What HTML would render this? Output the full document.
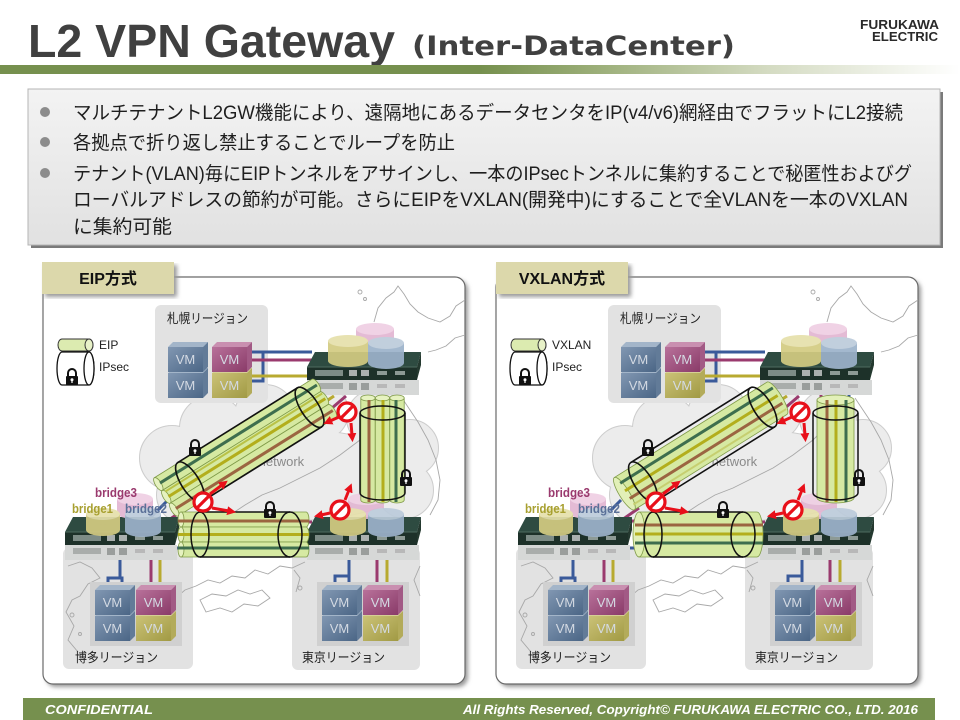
<!DOCTYPE html>
<html><head><meta charset="utf-8"><style>
html,body{margin:0;padding:0;background:#fff;}
svg{display:block;}
</style></head><body>
<svg width="960" height="720" viewBox="0 0 960 720" xmlns="http://www.w3.org/2000/svg" xmlns:xlink="http://www.w3.org/1999/xlink" font-family="'Liberation Sans','Noto Sans CJK JP',sans-serif">
<defs>
<linearGradient id="barG" x1="0" y1="0" x2="1" y2="0">
<stop offset="0" stop-color="#76904e"/><stop offset="0.5" stop-color="#76904e"/><stop offset="0.62" stop-color="#9bae78"/><stop offset="0.8" stop-color="#d4dbc2"/><stop offset="1" stop-color="#ffffff"/>
</linearGradient>
<linearGradient id="boxG" x1="0" y1="0" x2="0" y2="1">
<stop offset="0" stop-color="#f3f3f3"/><stop offset="1" stop-color="#e1e1e1"/>
</linearGradient>
<linearGradient id="vmB" x1="0" y1="0" x2="1" y2="1"><stop offset="0" stop-color="#8197b2"/><stop offset="1" stop-color="#4b6686"/></linearGradient>
<linearGradient id="vmP" x1="0" y1="0" x2="1" y2="1"><stop offset="0" stop-color="#b8719a"/><stop offset="1" stop-color="#8a3b69"/></linearGradient>
<linearGradient id="vmY" x1="0" y1="0" x2="1" y2="1"><stop offset="0" stop-color="#cbc277"/><stop offset="1" stop-color="#a19a44"/></linearGradient>
<filter id="blur" x="-5%" y="-5%" width="110%" height="110%"><feGaussianBlur stdDeviation="2"/></filter>
<marker id="ah" viewBox="0 0 10 10" refX="2" refY="5" markerWidth="3" markerHeight="3" orient="auto"><path d="M0,0 L10,5 L0,10 z" fill="#e8101a"/></marker>

<g id="pcBase">
  <g fill="#ececec" stroke="#cdcdcd" stroke-width="2">
    <circle cx="172" cy="458" r="32"/><circle cx="212" cy="428" r="32"/><circle cx="265" cy="415" r="30"/>
    <circle cx="320" cy="412" r="28"/><circle cx="375" cy="418" r="28"/><circle cx="410" cy="448" r="28"/>
    <circle cx="405" cy="490" r="28"/><circle cx="185" cy="495" r="28"/><ellipse cx="295" cy="475" rx="120" ry="45"/>
  </g>
  <g fill="#ececec">
    <circle cx="172" cy="458" r="32"/><circle cx="212" cy="428" r="32"/><circle cx="265" cy="415" r="30"/>
    <circle cx="320" cy="412" r="28"/><circle cx="375" cy="418" r="28"/><circle cx="410" cy="448" r="28"/>
    <circle cx="405" cy="490" r="28"/><circle cx="185" cy="495" r="28"/><ellipse cx="295" cy="475" rx="120" ry="45"/>
  </g>
  <rect x="155" y="305" width="113" height="98" rx="6" fill="#e2e2e2"/>
  <rect x="63" y="548" width="130" height="121" rx="6" fill="#e2e2e2"/>
  <rect x="292" y="548" width="128" height="122" rx="6" fill="#e2e2e2"/>
  <g fill="none" stroke="#a8a8a8" stroke-width="0.9">
    <path d="M374,322 L378,308 L386,298 L394,292 L398,286 L404,294 L410,304 L418,312 L428,318 L440,322 L450,316 L456,306 L462,302 L465,300"/>
    <path d="M465,335 L455,338 L446,346 L436,350 L428,352"/>
    <circle cx="360" cy="292" r="2"/><circle cx="365" cy="299" r="1.5"/>
    <path d="M402,398 L410,410 L418,422 L428,440 L436,460 L440,480 L438,500 L430,515"/>
    <path d="M395,400 L380,420 L360,440 L340,455 L320,468 L300,478 L280,488 L262,495 L245,505 L230,515 L215,525 L200,540"/>
    <path d="M305,562 L292,568 L280,566 L268,574 L255,570 L245,578 L232,576 L220,583 L208,580 L196,586 L185,590 L178,596"/>
    <path d="M200,600 L212,594 L226,596 L238,590 L250,594 L262,590 L270,598 L258,606 L244,604 L232,612 L220,608 L206,612 Z"/>
    <path d="M68,566 L80,562 L92,568 L100,578 L88,584 L80,596 L72,600 L66,612 L74,626 L68,640 L78,652"/>
    <path d="M420,566 L414,580 L420,596"/>
    <circle cx="72" cy="615" r="2"/><circle cx="80" cy="634" r="1.5"/><circle cx="300" cy="588" r="2"/>
    <path d="M294,570 L300,578 L296,592"/>
  </g>
  <path d="M62,339 H89 A4,6 0 0 1 89,351 H62 A4,6 0 0 1 62,339 Z" fill="#dcebb0" stroke="#333" stroke-width="1"/>
  <ellipse cx="89" cy="345" rx="4" ry="6" fill="#e8f2c8" stroke="#333" stroke-width="1"/>
  <path d="M62,352 H89 A5,16.5 0 0 1 89,385 H62 A5,16.5 0 0 1 62,352 Z" fill="#fff" stroke="#111" stroke-width="1.3"/>
  <ellipse cx="89" cy="368.5" rx="5" ry="16.5" fill="#fff" stroke="#111" stroke-width="1.3"/>
  <g fill="none" stroke-width="3">
    <path d="M250,352 H312 M250,381 H263 V352" stroke="#3a5a9a"/>
    <path d="M250,360 H312" stroke="#9a3a6e"/>
    <path d="M250,376 H312" stroke="#b8aa30"/>
    <path d="M108,592 V578 H122 V592 M120,560 V578" stroke="#3a5a9a"/>
    <path d="M151,560 V592" stroke="#9a3a6e"/>
    <path d="M160,560 V592" stroke="#b8aa30"/>
    <path d="M335,592 V576 H349 V592 M349,560 V576" stroke="#3a5a9a"/>
    <path d="M377,560 V592" stroke="#9a3a6e"/>
    <path d="M387,560 V592" stroke="#b8aa30"/>
    <path d="M368,394 V404" stroke="#9a3a6e"/><path d="M382,394 V404" stroke="#b8aa30"/><path d="M396,394 V404" stroke="#3a5a9a"/>
    <path d="M334,396 L322,404" stroke="#b8aa30"/><path d="M346,396 L332,408" stroke="#9a3a6e"/>
    <path d="M150,518 L168,500" stroke="#3a5a9a"/>
    <path d="M166,522 L186,508" stroke="#9a3a6e"/>
    <path d="M174,521 H186" stroke="#9a3a6e"/><path d="M174,548 H186" stroke="#3a5a9a"/>
    <path d="M298,522 H312" stroke="#9a3a6e"/><path d="M298,548 H312" stroke="#3a5a9a"/>
  </g>
  <rect x="90" y="582" width="92" height="64" fill="#d0d0d0"/>
  <rect x="317" y="582" width="92" height="64" fill="#d0d0d0"/>
  <polygon points="168,373 173,368 208,368 203,373" fill="#a3b5c9"/><polygon points="203,373 208,368 208,393 203,398" fill="#627b98"/><rect x="168" y="373" width="35" height="25" fill="url(#vmB)"/>
  <polygon points="168,347 173,342 208,342 203,347" fill="#a3b5c9"/><polygon points="203,347 208,342 208,367 203,372" fill="#627b98"/><rect x="168" y="347" width="35" height="25" fill="url(#vmB)"/>
  <polygon points="212,373 217,368 252,368 247,373" fill="#d6cf95"/><polygon points="247,373 252,368 252,393 247,398" fill="#b3ab5a"/><rect x="212" y="373" width="35" height="25" fill="url(#vmY)"/>
  <polygon points="212,347 217,342 252,342 247,347" fill="#c98fb0"/><polygon points="247,347 252,342 252,367 247,372" fill="#a25a85"/><rect x="212" y="347" width="35" height="25" fill="url(#vmP)"/>
  <polygon points="95,616 100,611 135,611 130,616" fill="#a3b5c9"/><polygon points="130,616 135,611 135,636 130,641" fill="#627b98"/><rect x="95" y="616" width="35" height="25" fill="url(#vmB)"/>
  <polygon points="95,590 100,585 135,585 130,590" fill="#a3b5c9"/><polygon points="130,590 135,585 135,610 130,615" fill="#627b98"/><rect x="95" y="590" width="35" height="25" fill="url(#vmB)"/>
  <polygon points="136,616 141,611 176,611 171,616" fill="#d6cf95"/><polygon points="171,616 176,611 176,636 171,641" fill="#b3ab5a"/><rect x="136" y="616" width="35" height="25" fill="url(#vmY)"/>
  <polygon points="136,590 141,585 176,585 171,590" fill="#c98fb0"/><polygon points="171,590 176,585 176,610 171,615" fill="#a25a85"/><rect x="136" y="590" width="35" height="25" fill="url(#vmP)"/>
  <polygon points="322,616 327,611 362,611 357,616" fill="#a3b5c9"/><polygon points="357,616 362,611 362,636 357,641" fill="#627b98"/><rect x="322" y="616" width="35" height="25" fill="url(#vmB)"/>
  <polygon points="322,590 327,585 362,585 357,590" fill="#a3b5c9"/><polygon points="357,590 362,585 362,610 357,615" fill="#627b98"/><rect x="322" y="590" width="35" height="25" fill="url(#vmB)"/>
  <polygon points="363,616 368,611 403,611 398,616" fill="#d6cf95"/><polygon points="398,616 403,611 403,636 398,641" fill="#b3ab5a"/><rect x="363" y="616" width="35" height="25" fill="url(#vmY)"/>
  <polygon points="363,590 368,585 403,585 398,590" fill="#c98fb0"/><polygon points="398,590 403,585 403,610 398,615" fill="#a25a85"/><rect x="363" y="590" width="35" height="25" fill="url(#vmP)"/>
  <g id="rtrH">
    <rect x="65" y="545" width="112" height="15" fill="#d6d8d7"/>
    <rect x="73" y="548" width="28" height="6" fill="#a9adab"/><rect x="107" y="548" width="8" height="7" fill="#9a9e9c"/><rect x="119" y="548" width="8" height="7" fill="#9a9e9c"/><rect x="135" y="549" width="10" height="4" fill="#b8b8b8"/><rect x="153" y="549" width="10" height="4" fill="#b8b8b8"/>
    <polygon points="73,517 179,517 175,532 65,532" fill="#2e4b41"/>
    <polygon points="175,532 179,517 179,530 175,545" fill="#24392f"/>
    <rect x="65" y="532" width="110" height="13" fill="#1d3129"/>
    <rect x="73" y="535" width="28" height="6" fill="#7d8c86"/><rect x="107" y="535" width="8" height="6" fill="#aab0ae"/><rect x="119" y="535" width="8" height="6" fill="#aab0ae"/><rect x="135" y="536" width="10" height="4" fill="#8d9a95"/><rect x="153" y="536" width="10" height="4" fill="#8d9a95"/>
    <line x1="65" y1="532" x2="175" y2="532" stroke="#4d6b60" stroke-width="1"/>
  </g>
  <use href="#rtrH" xlink:href="#rtrH" transform="translate(242,0)"/>
  <use href="#rtrH" xlink:href="#rtrH" transform="translate(242,-165)"/>
  <g opacity="0.92">
    <rect x="117" y="499" width="36" height="14" fill="#e2b6d2"/><ellipse cx="135" cy="513" rx="18" ry="6" fill="#e2b6d2"/><ellipse cx="135" cy="499" rx="18" ry="6" fill="#efcfe3"/>
    <rect x="86" y="514" width="34" height="16" fill="#d3cb82"/><ellipse cx="103" cy="530" rx="17" ry="6" fill="#d3cb82"/><ellipse cx="103" cy="514" rx="17" ry="6" fill="#e6e0ab"/>
    <rect x="125" y="514" width="36" height="17" fill="#9cb2ca"/><ellipse cx="143" cy="531" rx="18" ry="6" fill="#9cb2ca"/><ellipse cx="143" cy="514" rx="18" ry="6" fill="#bccbdb"/>
    <rect x="348" y="499" width="36" height="14" fill="#e2b6d2"/><ellipse cx="366" cy="513" rx="18" ry="6" fill="#e2b6d2"/><ellipse cx="366" cy="499" rx="18" ry="6" fill="#efcfe3"/>
    <rect x="330" y="514" width="36" height="16" fill="#d3cb82"/><ellipse cx="348" cy="530" rx="18" ry="6" fill="#d3cb82"/><ellipse cx="348" cy="514" rx="18" ry="6" fill="#e6e0ab"/>
    <rect x="368" y="514" width="36" height="17" fill="#9cb2ca"/><ellipse cx="386" cy="531" rx="18" ry="6" fill="#9cb2ca"/><ellipse cx="386" cy="514" rx="18" ry="6" fill="#bccbdb"/>
    <rect x="356" y="329" width="38" height="16" fill="#e2b6d2"/><ellipse cx="375" cy="345" rx="19" ry="6" fill="#e2b6d2"/><ellipse cx="375" cy="329" rx="19" ry="6" fill="#efcfe3"/>
    <rect x="328" y="341" width="40" height="20" fill="#d3cb82"/><ellipse cx="348" cy="361" rx="20" ry="6" fill="#d3cb82"/><ellipse cx="348" cy="341" rx="20" ry="6" fill="#e6e0ab"/>
    <rect x="368" y="343" width="36" height="20" fill="#9cb2ca"/><ellipse cx="386" cy="363" rx="18" ry="6" fill="#9cb2ca"/><ellipse cx="386" cy="343" rx="18" ry="6" fill="#bccbdb"/>
  </g>
</g>

<g id="lock">
  <path d="M-4,-1 V-5 A4,4 0 0 1 4,-5 V-1" fill="none" stroke="#111" stroke-width="2"/>
  <rect x="-6" y="-2" width="12" height="9" rx="1" fill="#111"/>
  <circle cx="0" cy="1.8" r="1.5" fill="#fff"/><rect x="-0.6" y="2" width="1.2" height="3" fill="#fff"/>
</g>

<g id="pcTop">
  <g stroke="#e8101a" stroke-width="3" fill="none" marker-end="url(#ah)">
    <line x1="339" y1="417" x2="330" y2="421"/>
    <line x1="351" y1="423" x2="352" y2="435"/>
    <line x1="210" y1="494" x2="222" y2="485"/>
    <line x1="212" y1="508" x2="229" y2="511"/>
    <line x1="345" y1="500" x2="349" y2="490"/>
    <line x1="330" y1="513" x2="321" y2="515"/>
  </g>
  <g fill="#fff" stroke="#e8101a" stroke-width="3.2">
    <circle cx="347" cy="412" r="9"/><line x1="353" y1="406" x2="341" y2="418"/>
    <circle cx="203" cy="502" r="9"/><line x1="209" y1="496" x2="197" y2="508"/>
    <circle cx="340" cy="510" r="9"/><line x1="346" y1="504" x2="334" y2="516"/>
  </g>
  <use href="#lock" xlink:href="#lock" transform="translate(72,378)"/>
  <use href="#lock" xlink:href="#lock" transform="translate(195,449)"/>
  <use href="#lock" xlink:href="#lock" transform="translate(270,511)"/>
  <use href="#lock" xlink:href="#lock" transform="translate(406,479)"/>
</g>
</defs>

<text x="28" y="57" font-size="46" font-weight="bold" fill="#404040" textLength="367" lengthAdjust="spacingAndGlyphs">L2 VPN Gateway</text>
<text x="412" y="55" font-family="'DejaVu Sans',sans-serif" font-size="27" font-weight="bold" fill="#404040" textLength="323" lengthAdjust="spacingAndGlyphs">(Inter-DataCenter)</text>
<text x="860" y="29" font-size="12.5" font-weight="bold" fill="#2a2a2a" textLength="79" lengthAdjust="spacingAndGlyphs">FURUKAWA</text>
<text x="872" y="41" font-size="12.5" font-weight="bold" fill="#2a2a2a" textLength="66" lengthAdjust="spacingAndGlyphs">ELECTRIC</text>
<rect x="0" y="65" width="960" height="9" fill="url(#barG)"/>

<rect x="31" y="92" width="912" height="156" fill="#7a7a7a"/>
<rect x="28" y="89" width="912" height="156" fill="url(#boxG)" stroke="#b5b5b5" stroke-width="1"/>
<circle cx="45" cy="112" r="5" fill="#8c8c8c"/>
<circle cx="45" cy="142" r="5" fill="#8c8c8c"/>
<circle cx="45" cy="173" r="5" fill="#8c8c8c"/>
<g font-size="19" fill="#1e1e1e">
<text x="73" y="119" textLength="830" lengthAdjust="spacingAndGlyphs">マルチテナントL2GW機能により、遠隔地にあるデータセンタをIP(v4/v6)網経由でフラットにL2接続</text>
<text x="73" y="149" textLength="382" lengthAdjust="spacingAndGlyphs">各拠点で折り返し禁止することでループを防止</text>
<text x="73" y="180" textLength="839" lengthAdjust="spacingAndGlyphs">テナント(VLAN)毎にEIPトンネルをアサインし、一本のIPsecトンネルに集約することで秘匿性およびグ</text>
<text x="73" y="206" textLength="835" lengthAdjust="spacingAndGlyphs">ローバルアドレスの節約が可能。さらにEIPをVXLAN(開発中)にすることで全VLANを一本のVXLAN</text>
<text x="73" y="233" textLength="99" lengthAdjust="spacingAndGlyphs">に集約可能</text>
</g>

<rect x="46" y="280" width="422" height="407" rx="10" fill="#9a9a9a" filter="url(#blur)"/>
<rect x="43" y="277" width="422" height="407" rx="10" fill="#fff" stroke="#6a6a6a" stroke-width="1.2"/>
<rect x="499" y="280" width="422" height="407" rx="10" fill="#9a9a9a" filter="url(#blur)"/>
<rect x="496" y="277" width="422" height="407" rx="10" fill="#fff" stroke="#6a6a6a" stroke-width="1.2"/>

<use href="#pcBase" xlink:href="#pcBase"/>
<use href="#pcBase" xlink:href="#pcBase" transform="translate(453,0)"/>

<g font-size="13" fill="#222">
<text x="167" y="323" textLength="81" lengthAdjust="spacingAndGlyphs">札幌リージョン</text>
<text x="75" y="662" textLength="83" lengthAdjust="spacingAndGlyphs">博多リージョン</text>
<text x="302" y="662" textLength="83" lengthAdjust="spacingAndGlyphs">東京リージョン</text>
<text x="620" y="323" textLength="81" lengthAdjust="spacingAndGlyphs">札幌リージョン</text>
<text x="528" y="662" textLength="83" lengthAdjust="spacingAndGlyphs">博多リージョン</text>
<text x="755" y="662" textLength="83" lengthAdjust="spacingAndGlyphs">東京リージョン</text>
</g>
<g font-size="12" fill="#222">
<text x="99" y="349">EIP</text>
<text x="99" y="371">IPsec</text>
<text x="552" y="349">VXLAN</text>
<text x="552" y="371">IPsec</text>
</g>
<g font-size="13" fill="#d4dae3" text-anchor="middle">
<text x="185.5" y="364">VM</text><text x="185.5" y="390">VM</text><text x="229.5" y="364">VM</text><text x="229.5" y="390">VM</text>
<text x="112.5" y="607">VM</text><text x="112.5" y="633">VM</text><text x="153.5" y="607">VM</text><text x="153.5" y="633">VM</text>
<text x="339.5" y="607">VM</text><text x="339.5" y="633">VM</text><text x="380.5" y="607">VM</text><text x="380.5" y="633">VM</text>
<text x="638.5" y="364">VM</text><text x="638.5" y="390">VM</text><text x="682.5" y="364">VM</text><text x="682.5" y="390">VM</text>
<text x="565.5" y="607">VM</text><text x="565.5" y="633">VM</text><text x="606.5" y="607">VM</text><text x="606.5" y="633">VM</text>
<text x="792.5" y="607">VM</text><text x="792.5" y="633">VM</text><text x="833.5" y="607">VM</text><text x="833.5" y="633">VM</text>
</g>
<g font-size="13" fill="#8a8a8a">
<text x="243" y="466">IP network</text>
<text x="696" y="466">IP network</text>
</g>

<!-- LEFT tunnels (EIP) -->
<g transform="translate(190,482) rotate(-32)">
  <g fill="#d6e9a2" stroke="#7f9a48" stroke-width="0.8">
    <path d="M-28,-22.5 H158 A3,7.5 0 0 1 158,-7.5 H-28 Z"/><ellipse cx="-28" cy="-15" rx="3" ry="7.5" fill="#e6f2c0"/>
    <path d="M-28,-7.5 H158 A3,7.5 0 0 1 158,7.5 H-28 Z"/><ellipse cx="-28" cy="0" rx="3" ry="7.5" fill="#e6f2c0"/>
    <path d="M-28,7.5 H158 A3,7.5 0 0 1 158,22.5 H-28 Z"/><ellipse cx="-28" cy="15" rx="3" ry="7.5" fill="#e6f2c0"/>
  </g>
  <line x1="-26" y1="-15" x2="159" y2="-15" stroke="#3e6e4e" stroke-width="3"/>
  <line x1="-26" y1="-5" x2="159" y2="-5" stroke="#b9c247" stroke-width="2"/>
  <line x1="-26" y1="1" x2="159" y2="1" stroke="#b3ae1c" stroke-width="3"/>
  <line x1="-26" y1="15" x2="159" y2="15" stroke="#9b6541" stroke-width="3"/>
  <path d="M0,-23 H141 M0,23 H141" stroke="#111" stroke-width="1.6" fill="none"/>
  <ellipse cx="0" cy="0" rx="9" ry="23" fill="none" stroke="#111" stroke-width="1.6"/>
  <ellipse cx="141" cy="0" rx="9" ry="23" fill="none" stroke="#111" stroke-width="1.6"/>
</g>
<g>
  <g fill="#d6e9a2" stroke="#7f9a48" stroke-width="0.8">
    <path d="M360.8,398 V500 A7.2,3 0 0 0 375.2,500 V398 Z"/><ellipse cx="368" cy="398" rx="7.2" ry="3" fill="#e6f2c0"/>
    <path d="M375.3,398 V500 A7.2,3 0 0 0 389.7,500 V398 Z"/><ellipse cx="382.5" cy="398" rx="7.2" ry="3" fill="#e6f2c0"/>
    <path d="M389.8,398 V500 A7.2,3 0 0 0 404.2,500 V398 Z"/><ellipse cx="397" cy="398" rx="7.2" ry="3" fill="#e6f2c0"/>
  </g>
  <line x1="369" y1="400" x2="369" y2="502" stroke="#9b6541" stroke-width="3"/>
  <line x1="383" y1="400" x2="383" y2="502" stroke="#b3ae1c" stroke-width="3"/>
  <line x1="396" y1="400" x2="396" y2="502" stroke="#3e6e4e" stroke-width="3"/>
  <path d="M360,413 V493 M405,413 V493 M360,493 A22.5,7 0 0 0 405,493" fill="none" stroke="#111" stroke-width="1.5"/>
  <ellipse cx="382.5" cy="413" rx="22.5" ry="7" fill="none" stroke="#111" stroke-width="1.5"/>
</g>
<g>
  <g fill="#d6e9a2" stroke="#7f9a48" stroke-width="0.8">
    <path d="M181,512 H306 A3,7.5 0 0 1 306,527 H181 Z"/><ellipse cx="181" cy="519.5" rx="3" ry="7.5" fill="#e6f2c0"/>
    <path d="M181,527 H306 A3,7.5 0 0 1 306,542 H181 Z"/><ellipse cx="181" cy="534.5" rx="3" ry="7.5" fill="#e6f2c0"/>
    <path d="M181,542 H306 A3,7.5 0 0 1 306,557 H181 Z"/><ellipse cx="181" cy="549.5" rx="3" ry="7.5" fill="#e6f2c0"/>
  </g>
  <line x1="178" y1="521" x2="309" y2="521" stroke="#9b6541" stroke-width="3"/>
  <line x1="178" y1="534.5" x2="309" y2="534.5" stroke="#b3ae1c" stroke-width="3"/>
  <line x1="178" y1="548" x2="309" y2="548" stroke="#3e6e4e" stroke-width="3"/>
  <path d="M200,512 H290 M200,557 H290" fill="none" stroke="#111" stroke-width="1.5"/>
  <ellipse cx="200" cy="534.5" rx="9" ry="22.5" fill="none" stroke="#111" stroke-width="1.5"/>
  <ellipse cx="290" cy="534.5" rx="12" ry="22.5" fill="none" stroke="#111" stroke-width="1.5"/>
</g>

<!-- RIGHT tunnels (VXLAN) -->
<g transform="translate(453,0)">
  <g transform="translate(190,482) rotate(-32)">
    <path d="M-22,-19 H158 A5,19 0 0 1 158,19 H-22 Z" fill="#d6e9a2" stroke="#7f9a48" stroke-width="0.8"/>
    <ellipse cx="-22" cy="0" rx="5" ry="19" fill="#e2f0b8" stroke="#7f9a48" stroke-width="0.8"/>
    <line x1="-20" y1="-11" x2="160" y2="-11" stroke="#3e6e4e" stroke-width="3"/>
    <line x1="-20" y1="-2" x2="160" y2="-2" stroke="#b3ae1c" stroke-width="3"/>
    <line x1="-20" y1="7" x2="160" y2="7" stroke="#9b6541" stroke-width="3"/>
    <line x1="-20" y1="14" x2="160" y2="14" stroke="#c6cf70" stroke-width="2"/>
    <path d="M0,-23 H141 M0,23 H141" stroke="#111" stroke-width="1.6" fill="none"/>
    <ellipse cx="0" cy="0" rx="9" ry="23" fill="none" stroke="#111" stroke-width="1.6"/>
    <ellipse cx="141" cy="0" rx="9" ry="23" fill="none" stroke="#111" stroke-width="1.6"/>
  </g>
  <path d="M364,400 V498 A18.5,5 0 0 0 401,498 V400 Z" fill="#d6e9a2" stroke="#7f9a48" stroke-width="0.8"/>
  <ellipse cx="382.5" cy="400" rx="18.5" ry="5" fill="#e2f0b8" stroke="#7f9a48" stroke-width="0.8"/>
  <line x1="374" y1="400" x2="374" y2="502" stroke="#9b6541" stroke-width="3"/>
  <line x1="383" y1="400" x2="383" y2="502" stroke="#b3ae1c" stroke-width="3"/>
  <line x1="393" y1="400" x2="393" y2="502" stroke="#3e6e4e" stroke-width="3"/>
  <path d="M360,413 V493 M405,413 V493 M360,493 A22.5,7 0 0 0 405,493" fill="none" stroke="#111" stroke-width="1.5"/>
  <ellipse cx="382.5" cy="413" rx="22.5" ry="7" fill="none" stroke="#111" stroke-width="1.5"/>
  <path d="M186,512 H304 A6,22.5 0 0 1 304,557 H186 Z" fill="#d6e9a2" stroke="#7f9a48" stroke-width="0.8"/>
  <ellipse cx="186" cy="534.5" rx="6" ry="22.5" fill="#e2f0b8" stroke="#7f9a48" stroke-width="0.8"/>
  <line x1="182" y1="525" x2="310" y2="525" stroke="#9b6541" stroke-width="3"/>
  <line x1="182" y1="534" x2="310" y2="534" stroke="#b3ae1c" stroke-width="3"/>
  <line x1="182" y1="543" x2="310" y2="543" stroke="#3e6e4e" stroke-width="3"/>
  <path d="M200,512 H290 M200,557 H290" fill="none" stroke="#111" stroke-width="1.5"/>
  <ellipse cx="200" cy="534.5" rx="9" ry="22.5" fill="none" stroke="#111" stroke-width="1.5"/>
  <ellipse cx="290" cy="534.5" rx="12" ry="22.5" fill="none" stroke="#111" stroke-width="1.5"/>
</g>

<use href="#pcTop" xlink:href="#pcTop"/>
<use href="#pcTop" xlink:href="#pcTop" transform="translate(453,0)"/>

<g font-size="12.5" font-weight="bold">
<text x="95" y="497" fill="#9a3a6e" textLength="42" lengthAdjust="spacingAndGlyphs">bridge3</text>
<text x="72" y="513" fill="#a8a030" textLength="41" lengthAdjust="spacingAndGlyphs">bridge1</text>
<text x="125" y="513" fill="#5a7098" textLength="42" lengthAdjust="spacingAndGlyphs">bridge2</text>
<text x="548" y="497" fill="#9a3a6e" textLength="42" lengthAdjust="spacingAndGlyphs">bridge3</text>
<text x="525" y="513" fill="#a8a030" textLength="41" lengthAdjust="spacingAndGlyphs">bridge1</text>
<text x="578" y="513" fill="#5a7098" textLength="42" lengthAdjust="spacingAndGlyphs">bridge2</text>
</g>

<rect x="45" y="265" width="132" height="32" fill="#9a9a9a" filter="url(#blur)"/>
<rect x="42" y="262" width="132" height="32" fill="#dcd8ab"/>
<text x="108" y="284" font-size="16" font-weight="bold" fill="#111" text-anchor="middle">EIP方式</text>
<rect x="499" y="265" width="132" height="32" fill="#9a9a9a" filter="url(#blur)"/>
<rect x="496" y="262" width="132" height="32" fill="#dcd8ab"/>
<text x="562" y="284" font-size="16" font-weight="bold" fill="#111" text-anchor="middle">VXLAN方式</text>

<rect x="23" y="698" width="912" height="22" fill="#76904e"/>
<text x="45" y="714" font-size="13" font-weight="bold" font-style="italic" fill="#fff" textLength="108" lengthAdjust="spacingAndGlyphs">CONFIDENTIAL</text>
<text x="463" y="714" font-size="12.5" font-weight="bold" font-style="italic" fill="#fff" textLength="455" lengthAdjust="spacingAndGlyphs">All Rights Reserved,  Copyright© FURUKAWA  ELECTRIC  CO., LTD. 2016</text>
</svg>
</body></html>
